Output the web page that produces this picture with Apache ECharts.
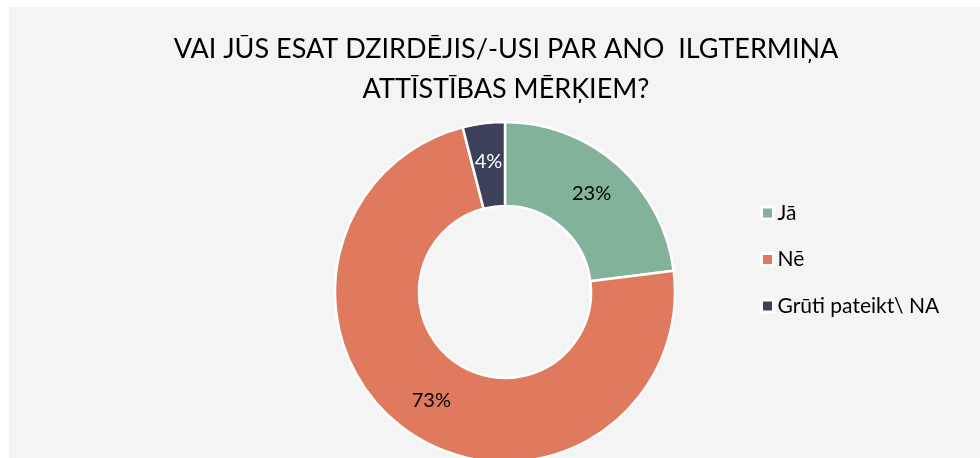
<!DOCTYPE html>
<html>
<head>
<meta charset="utf-8">
<script src="https://cdn.jsdelivr.net/npm/echarts@6/dist/echarts.min.js"></script>
<style>
html,body{margin:0;padding:0;background:#ffffff;}
#chart{width:980px;height:458px;}
</style>
</head>
<body>
<div id="chart"></div>
<script>
const titleText = 'VAI JŪS ESAT DZIRDĒJIS/-USI PAR ANO  ILGTERMIŅA\nATTĪSTĪBAS MĒRĶIEM?';
const categories = ['Jā', 'Nē', 'Grūti pateikt\\ NA'];
const values = [23, 73, 4];
const colors = ['#82b39a', '#e07a5f', '#3d405b'];
const labelColors = ['#000000', '#000000', '#ffffff'];

const chart = echarts.init(document.getElementById('chart'), null, {renderer: 'canvas'});
chart.setOption({
  animation: false,
  backgroundColor: '#ffffff',
  graphic: [{
    type: 'rect', z: -10, silent: true,
    shape: {x: 9, y: 7, width: 971, height: 451},
    style: {fill: '#f4f4f4'}
  }],
  title: {
    text: titleText,
    left: 501, top: 24,
    textAlign: 'center',
    textStyle: {fontFamily: 'Lato', fontWeight: 400, fontSize: 27, color: '#000', lineHeight: 40}
  },
  legend: {
    orient: 'vertical',
    left: 755, top: 197,
    itemWidth: 12, itemHeight: 12, itemGap: 24.5,
    icon: 'rect',
    itemStyle: {borderColor: '#ffffff', borderWidth: 3},
    data: categories,
    textStyle: {fontFamily: 'Lato', fontSize: 21, lineHeight: 22, color: '#000', padding: [0,0,0,-1]}
  },
  series: [{
    type: 'pie',
    center: [505, 292],
    radius: [86, 170],
    startAngle: 90,
    clockwise: true,
    avoidLabelOverlap: false,
    itemStyle: {borderColor: '#ffffff', borderWidth: 2.5},
    label: {
      show: true, position: 'inside',
      formatter: '{c}%',
      fontFamily: 'Lato', fontSize: 20
    },
    labelLine: {show: false},
    data: categories.map((c, i) => ({
      name: c, value: values[i],
      itemStyle: {color: colors[i]},
      label: {color: labelColors[i]}
    }))
  }]
});
</script>
</body>
</html>
